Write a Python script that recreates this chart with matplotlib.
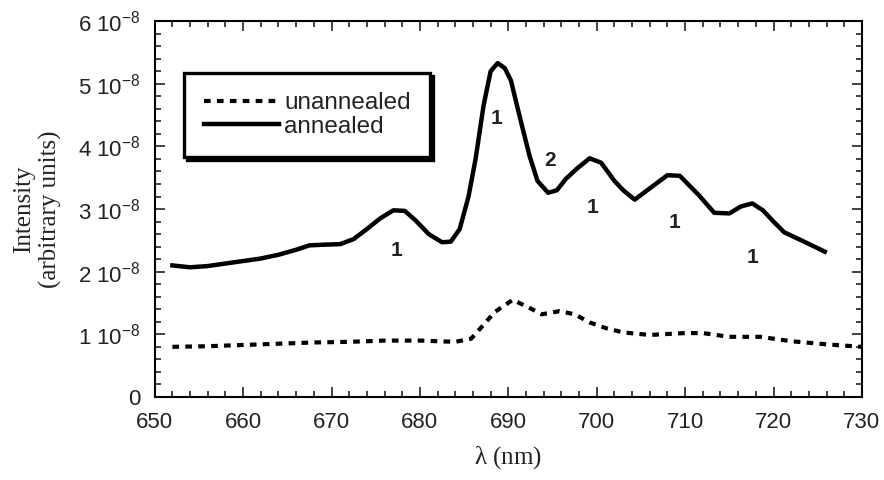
import matplotlib
matplotlib.use("Agg")
import matplotlib.pyplot as plt
from matplotlib.ticker import MultipleLocator
import numpy as np

# annealed sample (solid), intensity in units of 1e-8
wl_annealed = [652, 654, 656, 658, 660, 662, 664, 666, 667.5, 669, 671, 672.5,
               674, 675.5, 677, 678.3, 679.5, 681, 682.5, 683.5, 684.5, 685.5,
               686.3, 687.2, 688, 688.8, 689.6, 690.3, 690.9, 691.6, 692.4,
               693.3, 694.5, 695.5, 696.5, 697.8, 699.2, 700.5, 702, 703, 704.3,
               706, 708, 709.4, 711.5, 713.3, 715, 716.3, 717.6, 718.8, 720,
               721.2, 723, 725.8]
int_annealed = [2.10, 2.07, 2.09, 2.13, 2.17, 2.21, 2.27, 2.35, 2.42, 2.43, 2.44,
                2.52, 2.68, 2.85, 2.98, 2.97, 2.82, 2.60, 2.47, 2.48, 2.68, 3.20,
                3.80, 4.65, 5.20, 5.33, 5.25, 5.05, 4.70, 4.30, 3.85, 3.45, 3.26,
                3.30, 3.48, 3.65, 3.81, 3.74, 3.45, 3.30, 3.15, 3.33, 3.54, 3.53,
                3.23, 2.94, 2.93, 3.04, 3.09, 2.98, 2.80, 2.63, 2.51, 2.32]

# unannealed sample (dashed)
wl_unannealed = [652, 656, 660, 664, 668, 672, 676, 680, 684, 685.8, 687, 688.5,
                 690.5, 692, 693.8, 695.8, 697.5, 699.2, 701, 703, 706, 710,
                 712, 715, 718.5, 722, 726, 730]
int_unannealed = [0.80, 0.81, 0.83, 0.85, 0.87, 0.88, 0.90, 0.90, 0.88, 0.93,
                  1.12, 1.36, 1.55, 1.45, 1.32, 1.37, 1.32, 1.19, 1.10, 1.03,
                  0.99, 1.02, 1.02, 0.96, 0.96, 0.89, 0.84, 0.80]

# peak labels
peak_text = ["1", "1", "2", "1", "1", "1"]
peak_x = [677.4, 688.7, 694.7, 699.5, 708.8, 717.6]
peak_y = [2.34, 4.45, 3.78, 3.03, 2.79, 2.23]

ytick_vals = [0, 1, 2, 3, 4, 5, 6]
ytick_text = ["0"] + [r"%d 10$^{-8}$" % v for v in ytick_vals[1:]]

plt.rcParams['font.family'] = ['Liberation Sans', 'DejaVu Sans']
plt.rcParams['mathtext.default'] = 'regular'

scale = 1e-8

fig = plt.figure(figsize=(8.84, 4.8), dpi=100)
ax = fig.add_axes([0.175, 0.173, 0.800, 0.783])

ax.plot(wl_unannealed, np.array(int_unannealed) * scale, color='black',
        linewidth=3, linestyle=(0, (1.6, 1.5)), dash_capstyle='butt',
        label='unannealed')
ax.plot(wl_annealed, np.array(int_annealed) * scale, color='black',
        linewidth=3.2, solid_joinstyle='round', label='annealed')

for t, x, y in zip(peak_text, peak_x, peak_y):
    ax.text(x, y * scale, t, ha='center', va='center', fontsize=15,
            fontweight='bold', color='#222222')

ax.set_xlim(650, 730)
ax.set_ylim(0, 6 * scale)
ax.xaxis.set_major_locator(MultipleLocator(10))
ax.xaxis.set_minor_locator(MultipleLocator(2))
ax.set_yticks([v * scale for v in ytick_vals])
ax.set_yticklabels(ytick_text)
ax.yaxis.set_minor_locator(MultipleLocator(0.2 * scale))

ax.tick_params(which='both', direction='in', top=True, right=True,
               width=1.2, colors='#222222')
ax.tick_params(which='major', length=7)
ax.tick_params(which='minor', length=4)
ax.tick_params(axis='x', pad=11, labelsize=16)
ax.tick_params(axis='y', pad=10, labelsize=16)
for sp in ax.spines.values():
    sp.set_linewidth(1.5)

serif = ['Liberation Serif', 'DejaVu Serif']
ax.set_xlabel(r"$\mathregular{\lambda}$ (nm)", fontsize=18, family=serif,
              labelpad=8, color='#222222')
ax.set_ylabel("Intensity\n(arbitrary units)", fontsize=18, family=serif,
              labelpad=12, linespacing=1.2, color='#222222')

leg = ax.legend(loc='upper left', bbox_to_anchor=(0.042, 0.862),
                borderaxespad=0, fontsize=17.5, frameon=True, fancybox=False,
                shadow={'facecolor': 'black', 'edgecolor': 'black', 'alpha': 1},
                handlelength=3.1, handletextpad=0.2, borderpad=0.8,
                labelspacing=0.05)
leg.get_frame().set_edgecolor('black')
leg.get_frame().set_linewidth(2.4)
for t in leg.get_texts():
    t.set_color('#222222')

fig.savefig('out.png', dpi=100)
